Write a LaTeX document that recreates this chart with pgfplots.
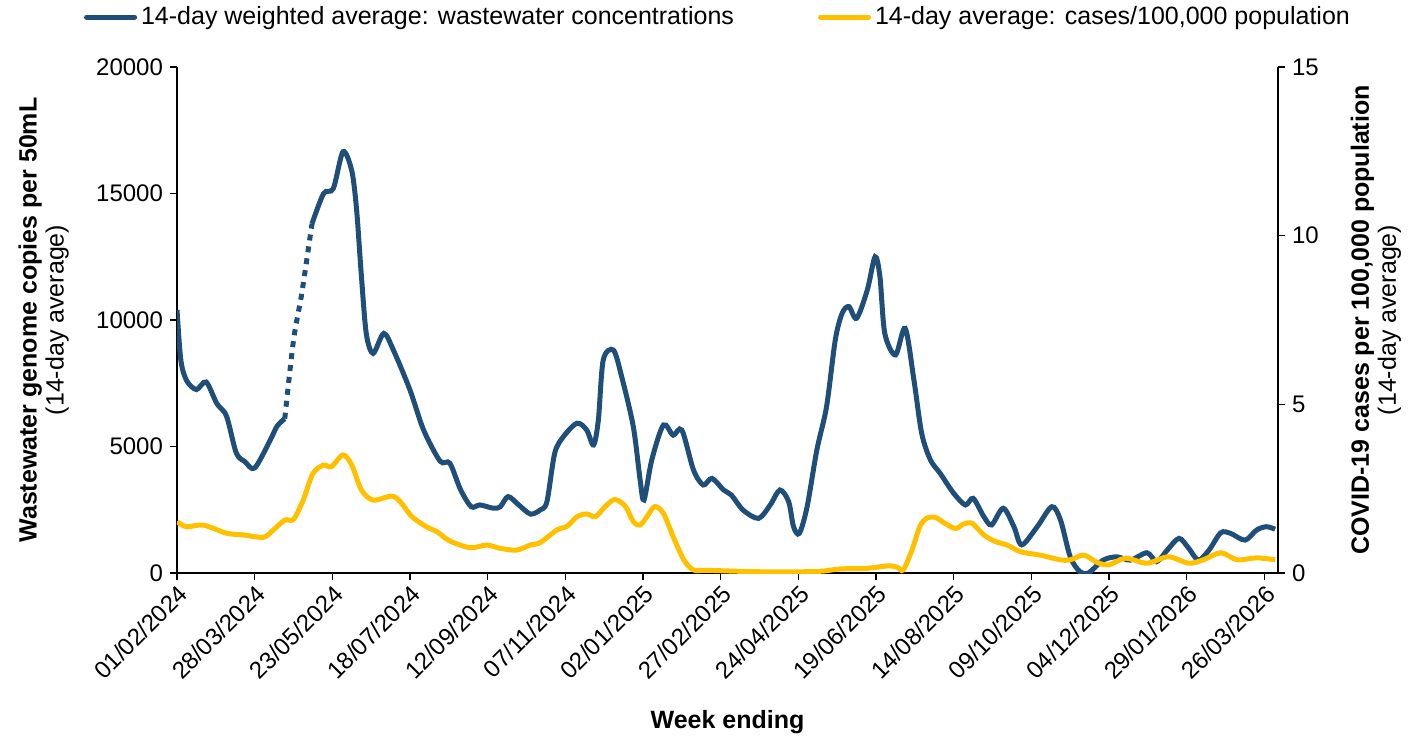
\documentclass[border=0pt]{standalone}
\usepackage{fontspec}
\setmainfont{Liberation Sans}
\usepackage{pgfplots}
\pgfplotsset{compat=1.18}
\definecolor{wwblue}{RGB}{31,78,121}
\definecolor{caseyellow}{RGB}{255,192,0}

\pgfplotstableread{
w v
0 10400
0.4 8400
1.0 7600
2.0 7250
3.0 7550
4.1 6700
5.1 6200
6.1 4750
7.0 4400
8.0 4150
9.6 5250
10.3 5800
11.1 6100
}\wwA
\pgfplotstableread{
w v
11.1 6100
12.0 9200
12.85 11050
13.9 13800
}\wwGap
\pgfplotstableread{
w v
13.9 13800
15.1 15000
16.1 15200
17.1 16650
18.0 15900
18.5 14350
19.0 11700
19.5 9450
20.2 8680
21.3 9470
22.3 8800
24.0 7230
25.4 5650
27.1 4420
28.1 4340
29.2 3300
30.3 2620
31.2 2690
32.6 2560
33.3 2620
34.1 3020
35.2 2690
36.4 2330
37.4 2490
38.1 2820
38.9 4730
39.8 5390
41.2 5920
42.2 5650
42.9 5060
43.4 6050
43.9 8420
44.95 8810
45.8 7760
47.0 5780
47.7 3680
48.1 2890
48.9 4470
50.1 5850
51.1 5450
52.0 5650
53.2 4070
54.2 3480
55.1 3740
56.3 3280
57.1 3080
58.3 2490
59.9 2160
61.1 2690
62.1 3280
63.0 2820
63.5 1830
64.1 1570
64.9 2620
65.9 4860
66.9 6570
67.8 9210
68.5 10260
69.2 10530
70.0 10070
71.1 11190
71.9 12500
72.4 11710
72.9 9470
74.0 8620
75.0 9670
75.9 7630
76.7 5520
77.6 4470
78.6 3940
80.0 3150
81.2 2690
82.0 2950
83.1 2230
83.9 1900
85.1 2560
86.2 1830
87.0 1110
88.6 1830
90.1 2620
91.0 2090
92.0 640
93.0 50
93.9 10
95.4 510
96.8 640
98.2 510
99.9 800
100.9 450
102.0 910
103.2 1370
104.2 980
105.2 510
106.3 910
107.5 1590
108.5 1570
110.0 1300
111.2 1700
112.2 1830
113.1 1730
}\wwB
\pgfplotstableread{
w c
0 1.52
1.0 1.37
2.7 1.42
5.1 1.18
6.8 1.13
8.9 1.06
9.9 1.27
11.1 1.57
12.0 1.59
13.0 2.16
14.0 2.95
15.1 3.20
15.9 3.15
17.1 3.50
18.0 3.20
19.0 2.46
20.2 2.16
22.1 2.28
23.0 2.11
24.2 1.67
25.7 1.37
26.8 1.22
28.1 0.95
30.2 0.75
31.9 0.83
33.3 0.73
35.0 0.68
36.4 0.83
37.4 0.90
39.1 1.27
40.2 1.39
41.2 1.67
42.2 1.75
43.1 1.67
44.1 1.97
45.1 2.18
46.2 1.97
47.0 1.52
47.7 1.42
48.4 1.67
49.2 1.97
50.1 1.77
51.1 1.08
52.2 0.39
53.2 0.09
54.6 0.08
58.0 0.05
62.0 0.03
66.2 0.05
68.3 0.12
71.1 0.14
73.2 0.21
74.2 0.17
74.8 0.09
75.7 0.68
76.5 1.37
77.2 1.62
78.1 1.65
79.1 1.47
80.2 1.32
81.0 1.45
81.9 1.47
83.1 1.13
84.3 0.93
85.5 0.83
86.9 0.63
88.9 0.53
91.0 0.39
92.0 0.39
93.4 0.53
94.8 0.31
96.0 0.24
97.7 0.44
99.9 0.29
102.1 0.48
104.2 0.29
105.7 0.39
107.5 0.60
109.2 0.39
111.2 0.45
113.1 0.39
}\cases

\begin{document}
\begin{tikzpicture}
\path[use as bounding box] (0,0) rectangle (709pt,370pt);
\pgfplotsset{
  common/.style={
    at={(88.5pt,83.5pt)}, anchor=south west,
    scale only axis, width=550.5pt, height=253pt,
    xmin=0, xmax=113.4,
    scaled y ticks=false, scaled x ticks=false,
    tick align=outside, major tick length=3.5pt,
    tick style={black, line width=0.6pt},
    axis line style={-, black, line width=0.8pt},
    tick label style={font=\fontsize{12}{14}\selectfont},
    label style={font=\fontsize{12.5}{13.5}\selectfont, align=center},
  }
}
\begin{axis}[common,
  axis x line*=bottom, axis y line*=left,
  ymin=0, ymax=20000,
  ytick={0,5000,10000,15000,20000},
  yticklabels={0,5000,10000,15000,20000},
  xtick={0,8,...,112},
  xticklabels={01/02/2024,28/03/2024,23/05/2024,18/07/2024,12/09/2024,07/11/2024,02/01/2025,27/02/2025,24/04/2025,19/06/2025,14/08/2025,09/10/2025,04/12/2025,29/01/2026,26/03/2026},
  xticklabel style={rotate=45, anchor=north east, inner sep=1pt},
  xlabel={\bfseries Week ending},
  xlabel style={at={(axis description cs:0.5,0)}, anchor=center, yshift=-74.5pt},
  ylabel={\bfseries Wastewater genome copies per 50mL\\(14-day average)},
  ylabel style={at={(axis description cs:-0.1212,0.5)}, anchor=center},
]
\addplot[wwblue, line width=2.5pt, smooth, tension=0.5] table[x=w,y=v] {\wwA};
\addplot[wwblue, line width=2.5pt, smooth, tension=0.5, dash pattern=on 3pt off 3pt] table[x=w,y=v] {\wwGap};
\addplot[wwblue, line width=2.5pt, smooth, tension=0.5] table[x=w,y=v] {\wwB};
\end{axis}
\begin{axis}[common,
  axis y line*=right, axis x line=none,
  ymin=0, ymax=15,
  ytick={0,5,10,15},
  yticklabels={0,5,10,15},
  ylabel={\bfseries COVID-19 cases per 100,000 population\\(14-day average)},
  ylabel style={at={(axis description cs:1.089,0.5)}, anchor=center, rotate=0},
  legend columns=2,
  legend image code/.code={\draw[#1, line width=2.5pt, line cap=round] (0pt,0pt) -- (24pt,0pt);},
  legend style={at={(axis description cs:0.4923,1.0988)}, anchor=center, draw=none, fill=none,
    font=\fontsize{12.5}{14}\selectfont, inner sep=0pt,
    /tikz/every even column/.append style={column sep=40pt}},
]
\addlegendimage{wwblue}
\addlegendentry{14-day weighted average: wastewater concentrations}
\addplot[caseyellow, line width=2.5pt, smooth, tension=0.5] table[x=w,y=c] {\cases};
\addlegendentry{14-day average: cases/100,000 population}
\end{axis}
\end{tikzpicture}
\end{document}
